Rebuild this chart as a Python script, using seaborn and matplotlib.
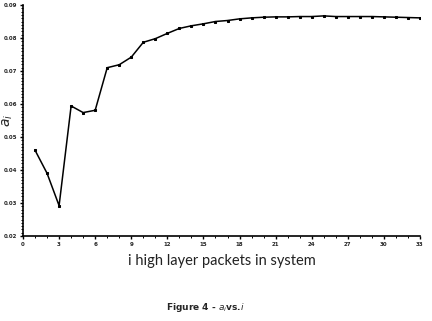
import numpy as np
import pandas as pd
import matplotlib
matplotlib.use("Agg")
import matplotlib.pyplot as plt
import seaborn as sns
from matplotlib.ticker import MultipleLocator, FixedLocator

sns.set_theme(style="white")
plt.rcParams['font.family'] = ['DejaVu Sans']
plt.rcParams['mathtext.fontset'] = 'dejavusans'

i_vals = list(range(1, 34))
a_vals = [0.0460, 0.0390, 0.0292, 0.0594, 0.0574, 0.0581, 0.0710, 0.0719, 0.0742, 0.0787,
          0.0798, 0.0814, 0.0829, 0.0837, 0.0843, 0.0850, 0.0853, 0.0858, 0.0861, 0.0863,
          0.0864, 0.0864, 0.0865, 0.0865, 0.0867, 0.0865, 0.0865, 0.0865, 0.0865, 0.0864,
          0.0863, 0.0862, 0.0861]
x_ticks = [0, 3, 6, 9, 12, 15, 18, 21, 24, 27, 30, 33]
y_ticks = [0.02, 0.03, 0.04, 0.05, 0.06, 0.07, 0.08, 0.09]

df = pd.DataFrame({"i": i_vals, "a": a_vals})

fig = plt.figure(figsize=(4.32, 3.21), dpi=100)
ax = fig.add_axes([23/432, 1-236/321, (420-23)/432, (236-5)/321])
sns.lineplot(data=df, x="i", y="a", ax=ax, color="black", linewidth=1.1,
             marker="s", markersize=1.6, markeredgecolor="black")
ax.set_xlim(0, 33)
ax.set_ylim(0.02, 0.09)
ax.xaxis.set_major_locator(FixedLocator(x_ticks))
ax.yaxis.set_major_locator(FixedLocator(y_ticks))
ax.xaxis.set_minor_locator(MultipleLocator(1))
ax.yaxis.set_minor_locator(MultipleLocator(0.001))
ax.set_xticklabels([str(t) for t in x_ticks], fontsize=4, fontweight="bold")
ax.set_yticklabels([f"{t:.2f}" for t in y_ticks], fontsize=4, fontweight="bold")
ax.tick_params(axis="both", which="major", length=2.5, width=1, color="black",
               direction="out", bottom=True, left=True, pad=1.5)
ax.tick_params(axis="both", which="minor", length=1.3, width=0.7, color="black",
               direction="out", bottom=True, left=True)
for s in ["top", "right"]:
    ax.spines[s].set_visible(False)
for s in ["left", "bottom"]:
    ax.spines[s].set_color("black")
    ax.spines[s].set_linewidth(1.2)
ax.set_xlabel("")
ax.set_ylabel("")
fig.text(8/432, 1-120/321, "$a_i$", rotation=90, fontsize=10, ha="center", va="center")
fig.text(222/432, 1-261/321, "i high layer packets in system", fontsize=10.5,
         family="Lato", ha="center", va="center", color="#222222")
fig.text(205/432, 1-307/321, "Figure 4 - $a_i$vs.$i$", fontsize=6.5,
         fontweight="bold", ha="center", va="center")
fig.savefig("out.png", dpi=100)
